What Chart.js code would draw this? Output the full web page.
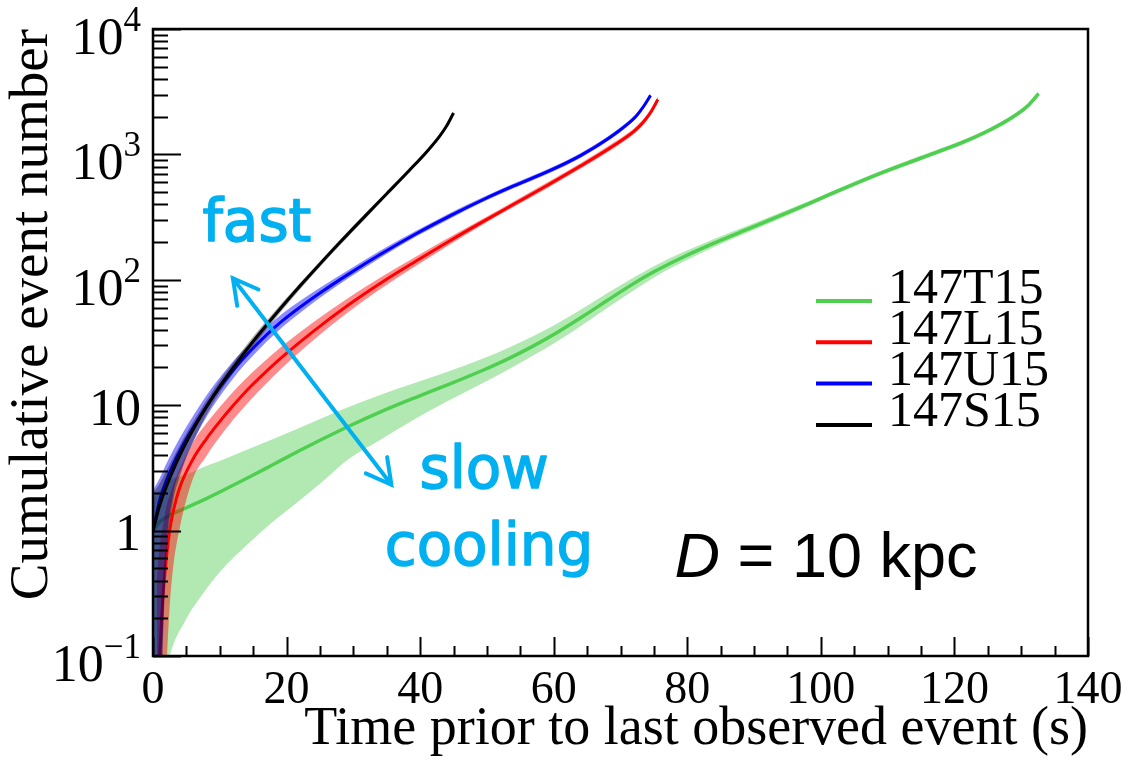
<!DOCTYPE html>
<html>
<head>
<meta charset="utf-8">
<script src="https://cdn.jsdelivr.net/npm/chart.js@4.4.0/dist/chart.umd.min.js"></script>
<style>
    html, body { margin: 0; padding: 0; background: #fff; }
    #wrap { width: 1132px; height: 762px; }
</style>
</head>
<body>
<div id="wrap"><canvas id="chart" width="1132" height="762"></canvas></div>
<script>
// 147T15 (slow cooling)
const tT = [0, 1, 2.5, 5, 7.5, 10, 14.5, 18, 21.9, 25, 29.4, 34, 39.4, 44, 49.4, 53, 56.9, 60, 64.4, 68, 71.9, 75, 79.4, 84, 89.4, 95, 100, 104, 108.8, 115, 121.3, 125, 128.8, 131, 132.6];
const yT = [1, 1.175, 1.326, 1.522, 1.748, 2.03, 2.685, 3.365, 4.33, 5.25, 6.83, 8.81, 11.57, 14.46, 19.0, 23.2, 29.6, 36.6, 51.2, 68.4, 92.8, 115.8, 152.1, 196.2, 258, 342.6, 446.3, 551.8, 703.6, 936.1, 1251, 1535, 1995, 2444, 3049];
const hiT = [1.8, 2.1, 2.52, 2.8, 3.2, 3.59, 4.51, 5.38, 6.58, 7.77, 9.7, 12.07, 15.16, 18.36, 23.56, 28.3, 35.5, 43.2, 59.4, 78, 103.9, 128.5, 166.5, 211.9, 274.8, 361.4, 466.4, 576.6, 735.3, 978.2, 1307, 1604, 2085, 2554, 3186];
const loT = [0.02, 0.04, 0.1, 0.198, 0.315, 0.467, 0.806, 1.18, 1.73, 2.36, 3.76, 5.29, 7.87, 10.7, 15.0, 19.0, 24.9, 31.1, 44.0, 59.5, 81.7, 104.2, 139.2, 182.5, 242.5, 325.5, 428.4, 529.7, 675.5, 898.7, 1201, 1474, 1915, 2346, 2927];

// 147L15
const tL = [0.6, 1, 1.5, 2, 2.5, 3, 4, 6, 8, 9.5, 12, 14.5, 17, 19.4, 24, 29.4, 34, 39.4, 44.4, 49.4, 54, 59.4, 64, 69.4, 72, 73.4, 74.5, 75.6];
const yL = [0.04, 0.1, 0.3, 0.6, 1.0, 1.4, 2.2, 3.73, 5.40, 6.87, 9.93, 13.9, 18.7, 24.4, 38.8, 63.8, 93.5, 141, 204, 291, 400, 581, 807, 1216, 1528, 1806, 2158, 2742];
const hiL = [0.42, 0.75, 1.1, 1.55, 1.9, 2.3, 3.1, 5.07, 7.18, 9.0, 12.81, 17.51, 23.19, 29.77, 45.78, 72.73, 103.8, 153.7, 218.3, 307, 422, 613, 851, 1283, 1612, 1905, 2277, 2893];
const loL = [0.005, 0.01, 0.03, 0.08, 0.25, 0.5, 1.05, 2.61, 3.94, 5.15, 7.65, 10.84, 14.96, 20.0, 32.98, 56.14, 84.15, 129.7, 190.7, 276.5, 380, 552, 767, 1155, 1452, 1716, 2050, 2605];

// 147U15
const tU = [0, 1, 2, 3, 4.5, 6, 8, 9.5, 12, 14.5, 17, 19.4, 22, 25, 29.4, 34, 39.4, 44.4, 49.4, 54, 59.4, 64, 68.4, 71, 72.4, 73.5, 74.5];
const yU = [1, 1.74, 2.51, 3.35, 4.82, 6.62, 9.8, 12.8, 19.0, 26.8, 36.4, 47.2, 60.4, 78.5, 112, 159, 233, 322, 435, 560, 741, 977, 1365, 1734, 2037, 2432, 2958];
const hiU = [2.1, 2.61, 3.41, 4.36, 6.07, 8.21, 11.96, 15.36, 22.42, 31.09, 41.86, 53.81, 67.65, 86.35, 120.96, 170.1, 245.8, 339.7, 454.6, 585.2, 774.3, 1021, 1426, 1812, 2129, 2541, 3091];
const loU = [0.01, 0.03, 0.7, 1.91, 3.37, 5.1, 8.04, 10.75, 16.34, 23.32, 32.03, 42.0, 54.36, 71.83, 104.2, 149.5, 221.4, 305.9, 417.6, 537.6, 711.4, 937.9, 1310, 1665, 1956, 2335, 2840];

// 147S15 (fast cooling)
const tS = [0, 1, 2, 3, 4, 5, 6.5, 8, 9.5, 12, 14.5, 17, 19.4, 22, 25.4, 28, 31.9, 35, 38.4, 41, 42.9, 44, 45];
const yS = [1, 1.585, 2.24, 3.02, 3.96, 5.08, 7.1, 9.66, 12.9, 19.9, 29.9, 43.6, 61.8, 89.1, 141, 199, 328, 486, 748, 1052, 1393, 1698, 2138];
const hiS = [2.0, 2.38, 3.0, 3.81, 4.79, 5.99, 8.17, 10.92, 14.45, 21.89, 32.59, 47.09, 66.13, 94.45, 148.1, 209, 344.4, 505.4, 777.9, 1094, 1449, 1766, 2224];
const loS = [0.01, 0.03, 0.6, 1.69, 2.69, 3.81, 5.82, 8.4, 11.48, 18.01, 27.36, 40.33, 57.78, 83.75, 134, 189, 311.6, 466.6, 718.1, 1010, 1337, 1630, 2052];

const seriesLabels = ["147T15", "147L15", "147U15", "147S15"];
const lineColors = ["#4fcf4f", "#ff0000", "#0000ff", "#000000"];
const bandColors = ["rgba(76,204,76,0.43)", "rgba(255,0,0,0.45)", "rgba(0,0,255,0.45)", "rgba(0,0,0,0.35)"];

const xTicks = [0, 20, 40, 60, 80, 100, 120, 140];
const xTickLabels = ["0", "20", "40", "60", "80", "100", "120", "140"];
const yTickValues = [0.1, 1, 10, 100, 1000, 10000];
const yTickBase = ["10", "1", "10", "10", "10", "10"];
const yTickExp = ["\u22121", "", "", "2", "3", "4"];

// annotations, in data units
const arrowFrom = [11.96, 103];
const arrowTo = [35.7, 2.32];
const notes = [
    { text: "fast", x: 7.4, y: 205 },
    { text: "slow", x: 39.9, y: 2.19 },
    { text: "cooling", x: 34.7, y: 0.53 },
];
const distNote = { x: 78.1, y: 0.43 };

const SERIF = "'Liberation Serif', 'Times New Roman', serif";

function pts(t, v) {
    return t.map((x, i) => ({ x: x, y: v[i] }));
}

const all = [
    [tT, yT, loT, hiT],
    [tL, yL, loL, hiL],
    [tU, yU, loU, hiU],
    [tS, yS, loS, hiS],
];

const datasets = [];
all.forEach((s, k) => {
    // first series is drawn first (bottom), bands under their own line
    const z = (all.length - k) * 2;
    datasets.push({
        data: pts(s[0], s[3]), borderWidth: 0, borderColor: "rgba(0,0,0,0)",
        pointRadius: 0, fill: false, order: z + 1, cubicInterpolationMode: "monotone",
    });
    datasets.push({
        data: pts(s[0], s[2]), borderWidth: 0, borderColor: "rgba(0,0,0,0)",
        pointRadius: 0, fill: "-1", backgroundColor: bandColors[k], order: z + 1,
        cubicInterpolationMode: "monotone",
    });
    datasets.push({
        label: seriesLabels[k], data: pts(s[0], s[1]), borderColor: lineColors[k],
        borderWidth: k === 0 ? 3.5 : 3, pointRadius: 0, fill: false, order: z,
        cubicInterpolationMode: "monotone",
    });
});

const framePlugin = {
    id: "frame",
    afterDraw(chart) {
        const ctx = chart.ctx;
        const a = chart.chartArea;
        const xs = chart.scales.x;
        const ys = chart.scales.y;
        ctx.save();
        ctx.strokeStyle = "#000";
        ctx.lineWidth = 2;
        ctx.beginPath();
        // x ticks, inward
        for (let v = xs.min; v <= xs.max; v += 5) {
            const px = Math.round(xs.getPixelForValue(v)) + 0.5;
            const len = v % 20 === 0 ? 19 : 10;
            ctx.moveTo(px, a.bottom);
            ctx.lineTo(px, a.bottom - len);
        }
        // y ticks, inward
        for (let d = 0.1; d < ys.max * 1.01; d *= 10) {
            for (let m = 1; m <= 9; m++) {
                const v = d * m;
                if (v > ys.max * 1.001) break;
                const py = Math.round(ys.getPixelForValue(v)) + 0.5;
                const len = m === 1 ? 28 : 15;
                ctx.moveTo(a.left, py);
                ctx.lineTo(a.left + len, py);
            }
        }
        ctx.stroke();
        ctx.lineWidth = 2.5;
        ctx.strokeRect(a.left, a.top, a.right - a.left, a.bottom - a.top);

        ctx.fillStyle = "#000";
        ctx.textBaseline = "alphabetic";

        // x tick labels
        ctx.textAlign = "center";
        ctx.font = "46px " + SERIF;
        xs.ticks.forEach((tk, i) => {
            ctx.fillText(xTickLabels[i], xs.getPixelForValue(tk.value), a.bottom + 47);
        });

        // y tick labels with exponents
        ctx.textAlign = "right";
        const R = a.left - 12;
        ys.ticks.forEach((tk, i) => {
            const py = ys.getPixelForValue(tk.value);
            const exp = yTickExp[i];
            if (exp) {
                ctx.font = "35px " + SERIF;
                const ew = ctx.measureText(exp).width;
                ctx.fillText(exp, R, py + 2);
                ctx.font = "52px " + SERIF;
                ctx.fillText(yTickBase[i], R - ew, py + 25);
            } else {
                ctx.font = "52px " + SERIF;
                ctx.fillText(yTickBase[i], R, py + 19.5);
            }
        });

        // legend
        ctx.textAlign = "left";
        ctx.font = "50px " + SERIF;
        const lx = a.right - 272;
        seriesLabels.forEach((lab, i) => {
            const ly = a.top + 272 + i * 41.3;
            ctx.strokeStyle = lineColors[i];
            ctx.lineWidth = 4;
            ctx.beginPath();
            ctx.moveTo(lx, ly);
            ctx.lineTo(lx + 56, ly);
            ctx.stroke();
            ctx.fillStyle = "#000";
            ctx.fillText(lab, lx + 72, ly + 1.5);
        });

        // arrow fast <-> slow
        const x1 = xs.getPixelForValue(arrowFrom[0]), y1 = ys.getPixelForValue(arrowFrom[1]);
        const x2 = xs.getPixelForValue(arrowTo[0]), y2 = ys.getPixelForValue(arrowTo[1]);
        ctx.strokeStyle = "#00b0f0";
        ctx.lineWidth = 4;
        ctx.lineCap = "round";
        ctx.beginPath();
        ctx.moveTo(x1, y1);
        ctx.lineTo(x2, y2);
        const ang = Math.atan2(y2 - y1, x2 - x1);
        const head = 28, spread = 0.5;
        [[x1, y1, ang], [x2, y2, ang + Math.PI]].forEach(([hx, hy, dir]) => {
            ctx.moveTo(hx + head * Math.cos(dir - spread), hy + head * Math.sin(dir - spread));
            ctx.lineTo(hx, hy);
            ctx.lineTo(hx + head * Math.cos(dir + spread), hy + head * Math.sin(dir + spread));
        });
        ctx.stroke();

        ctx.fillStyle = "#00b0f0";
        ctx.font = "58px 'DejaVu Sans', sans-serif";
        ctx.lineWidth = 1.5;
        ctx.lineJoin = "round";
        notes.forEach((n) => {
            const px = xs.getPixelForValue(n.x), py = ys.getPixelForValue(n.y);
            ctx.fillText(n.text, px, py);
            ctx.strokeText(n.text, px, py);
        });

        // D = 10 kpc
        const dx = xs.getPixelForValue(distNote.x), dy = ys.getPixelForValue(distNote.y);
        ctx.fillStyle = "#000";
        ctx.font = "italic 63px 'Liberation Sans', Arial, sans-serif";
        ctx.fillText("D", dx, dy);
        const dw = ctx.measureText("D").width;
        ctx.font = "63px 'Liberation Sans', Arial, sans-serif";
        ctx.fillText(" = 10 kpc", dx + dw, dy);
        ctx.restore();
    },
};

new Chart(document.getElementById("chart").getContext("2d"), {
    type: "line",
    data: { datasets: datasets },
    options: {
        animation: false,
        responsive: false,
        events: [],
        layout: { padding: { top: 29, right: 44, left: 0, bottom: 0 } },
        scales: {
            x: {
                type: "linear",
                min: 0,
                max: 140,
                afterBuildTicks: (scale) => {
                    scale.ticks = xTicks.map((v) => ({ value: v }));
                },
                afterFit: (scale) => {
                    scale.height = 106;
                },
                grid: { display: false, drawTicks: false },
                border: { display: false },
                ticks: { display: false },
                title: {
                    display: true,
                    text: "Time prior to last observed event (s)",
                    align: "end",
                    color: "#000",
                    font: { family: SERIF, size: 54, lineHeight: 1.2 },
                    padding: 0,
                },
            },
            y: {
                type: "logarithmic",
                min: 0.1,
                max: 10000,
                afterBuildTicks: (scale) => {
                    scale.ticks = yTickValues.map((v) => ({ value: v }));
                },
                afterFit: (scale) => {
                    scale.width = 153;
                },
                grid: { display: false, drawTicks: false },
                border: { display: false },
                ticks: { display: false },
                title: {
                    display: true,
                    text: "Cumulative event number",
                    align: "end",
                    color: "#000",
                    font: { family: SERIF, size: 55, lineHeight: 1.2 },
                    padding: 0,
                },
            },
        },
        plugins: {
            legend: { display: false },
            tooltip: { enabled: false },
        },
    },
    plugins: [framePlugin],
});
</script>
</body>
</html>
